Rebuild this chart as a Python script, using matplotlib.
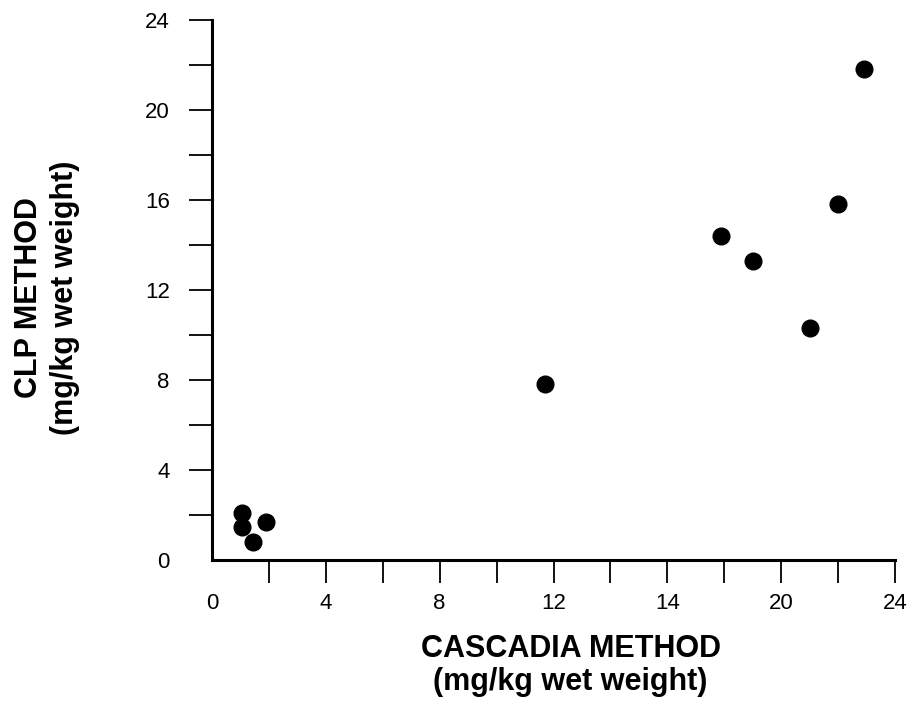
import matplotlib.pyplot as plt

# values (mg/kg wet weight)
cascadia = [1.05, 1.05, 1.9, 1.45, 11.7, 17.9, 19.0, 21.0, 22.0, 22.9]
clp = [2.1, 1.45, 1.7, 0.8, 7.8, 14.4, 13.3, 10.3, 15.8, 21.8]

tick_pos = list(range(0, 25, 2))
x_labels = ["0", "", "4", "", "8", "", "12", "", "14", "", "20", "", "24"]
y_labels = ["0", "", "4", "", "8", "", "12", "", "16", "", "20", "", "24"]

plt.rcParams["font.family"] = ["Liberation Sans", "DejaVu Sans"]

fig = plt.figure(figsize=(9.1, 7.13), dpi=100)
ax = fig.add_axes([0.233, 0.2146, 0.7505, 0.7574])

ax.plot(cascadia, clp, "o", color="black", markersize=12, clip_on=False)

ax.set_xlim(0, 24)
ax.set_ylim(0, 24)
ax.set_xticks(tick_pos, labels=x_labels)
ax.set_yticks(tick_pos, labels=y_labels)
ax.tick_params(axis="both", direction="out", length=16.5, width=1.3,
               labelsize=16, colors="black")
ax.tick_params(axis="x", pad=7)
ax.tick_params(axis="y", pad=14)
# no tick mark at the origin, only the label
ax.xaxis.get_major_ticks()[0].tick1line.set_visible(False)
ax.yaxis.get_major_ticks()[0].tick1line.set_visible(False)

for side in ["top", "right"]:
    ax.spines[side].set_visible(False)
for side in ["left", "bottom"]:
    ax.spines[side].set_linewidth(2.2)

fig.text(0.627, 0.0666, "CASCADIA METHOD\n(mg/kg wet weight)", ha="center",
         va="center", fontsize=22, fontweight="bold", linespacing=1.1)
fig.text(0.0516, 0.582, "CLP METHOD\n(mg/kg wet weight)", ha="center",
         va="center", rotation=90, fontsize=22, fontweight="bold",
         linespacing=1.3)

fig.savefig("out.png", dpi=100)
